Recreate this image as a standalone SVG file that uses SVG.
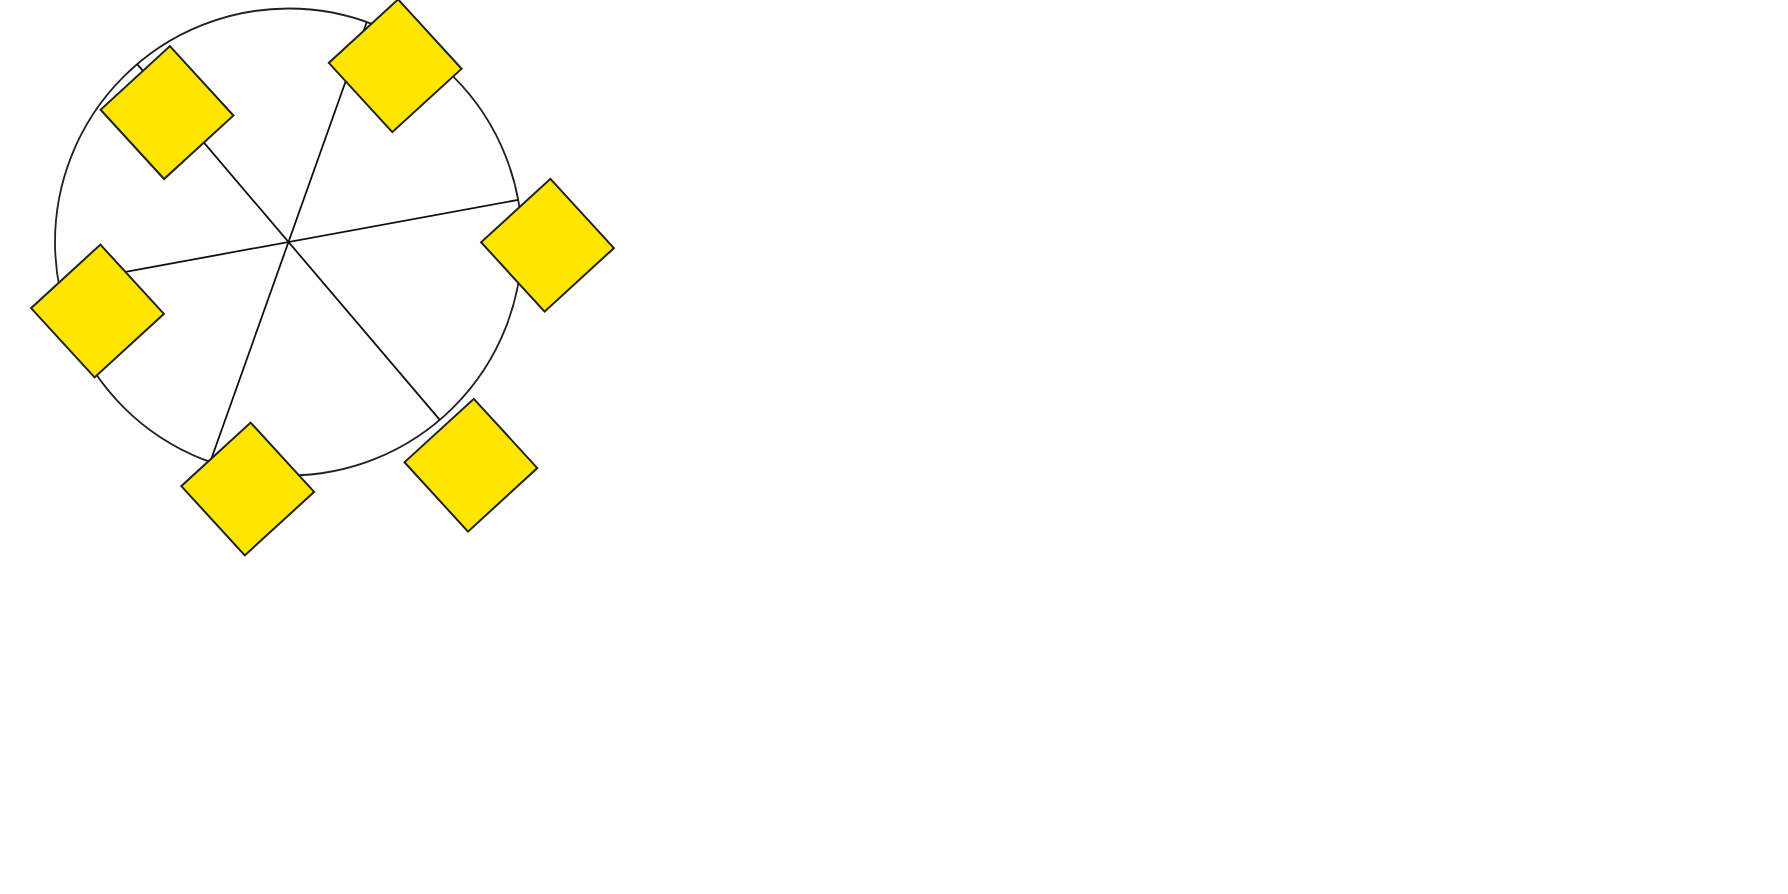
<svg xmlns="http://www.w3.org/2000/svg" width="1788" height="894" viewBox="0 0 1788 894">
<defs>
<style>
.ring{fill:none;stroke:#222;stroke-width:1.8}
.spoke{stroke:#111;stroke-width:1.8;fill:none}
.dia{fill:#FFE600;stroke:#222;stroke-width:2;stroke-linejoin:miter}
</style>
<rect id="sq" x="-47" y="-47" width="94" height="94" transform="rotate(47.5)"/>
</defs>
<rect width="1788" height="894" fill="#fff"/>
<g id="wheel">
<circle class="ring" cx="288.5" cy="242" r="233.5"/>
</g>
<g id="connectors">
<line class="spoke" x1="439.8" y1="419.8" x2="137.2" y2="64.2"/>
<line class="spoke" x1="366.8" y1="22" x2="210.2" y2="462"/>
<line class="spoke" x1="518.2" y1="199.9" x2="58.8" y2="284.1"/>
</g>
<g id="node1" transform="translate(167,112.6)"><use href="#sq" class="dia"/></g>
<g id="node2" transform="translate(395.2,65.8)"><use href="#sq" class="dia"/></g>
<g id="node3" transform="translate(547.5,245.2)"><use href="#sq" class="dia"/></g>
<g id="node4" transform="translate(97.5,311)"><use href="#sq" class="dia"/></g>
<g id="node5" transform="translate(247.7,489)"><use href="#sq" class="dia"/></g>
<g id="node6" transform="translate(470.9,465.2)"><use href="#sq" class="dia"/></g>
</svg>
